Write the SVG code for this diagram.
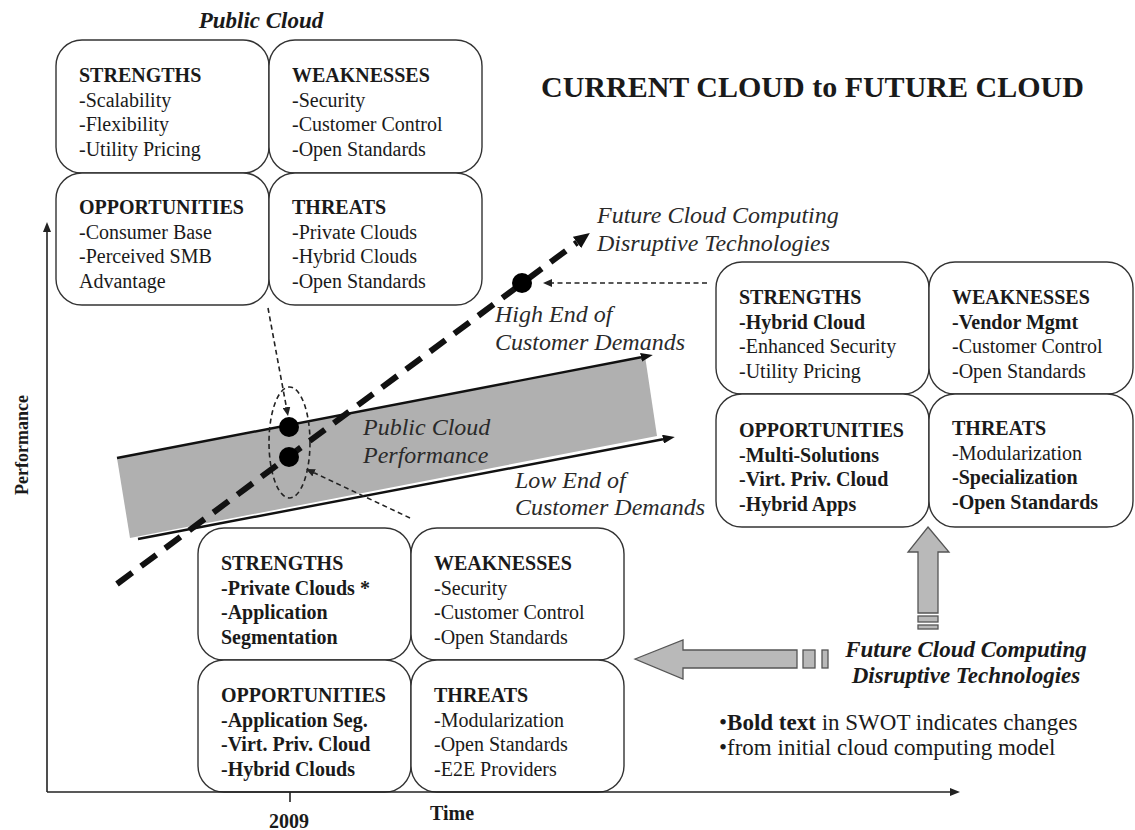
<svg xmlns="http://www.w3.org/2000/svg" width="1135" height="830" viewBox="0 0 1135 830">
<style>
text{font-family:"Liberation Serif","Times New Roman",serif;fill:#1a1a1a}
.sw{font-size:20px}
.h{font-weight:bold}
.b{font-weight:bold}
.it{font-style:italic;font-size:24px;fill:#2a2a2a}
.box{fill:#fff;stroke:#333;stroke-width:1.4}
.thin{fill:none;stroke:#222;stroke-width:1.6;stroke-dasharray:5 3.5}
.ax{fill:none;stroke:#222;stroke-width:1.6}
.blk{fill:#b9b9b9;stroke:#555;stroke-width:1.3}
</style>
<defs>
<marker id="ah" markerUnits="userSpaceOnUse" markerWidth="10" markerHeight="8" refX="0" refY="4" orient="auto"><path d="M0,0 L10,4 L0,8 z" fill="#222"/></marker>
<marker id="ahs" markerUnits="userSpaceOnUse" markerWidth="9" markerHeight="8" refX="0" refY="4" orient="auto"><path d="M0,0 L9,4 L0,8 z" fill="#222"/></marker>
<marker id="ahb" markerUnits="userSpaceOnUse" markerWidth="12" markerHeight="9" refX="0" refY="4.5" orient="auto"><path d="M0,0 L12,4.5 L0,9 z" fill="#111"/></marker>
<marker id="aht" markerUnits="userSpaceOnUse" markerWidth="16" markerHeight="14" refX="0" refY="7" orient="auto"><path d="M0,0 L16,7 L0,14 z" fill="#111"/></marker>
</defs>
<rect width="1135" height="830" fill="#fff"/>

<g id="band">
<polygon points="117,458 645,356 657,436 130,538" fill="#b0b0b0"/>
</g>

<text x="541" y="97" style="font-size:30px;font-weight:bold">CURRENT CLOUD to FUTURE CLOUD</text>
<text x="261" y="28" text-anchor="middle" style="font-size:23px;font-weight:bold;font-style:italic">Public Cloud</text>

<g id="pub-s"><rect class="box" x="56" y="40" width="213" height="133" rx="26"/>
<text class="sw" x="79" y="82"><tspan class="h">STRENGTHS</tspan><tspan x="79" dy="24.5">-Scalability</tspan><tspan x="79" dy="24.5">-Flexibility</tspan><tspan x="79" dy="24.5">-Utility Pricing</tspan></text></g>
<g id="pub-w"><rect class="box" x="269" y="40" width="213" height="133" rx="26"/>
<text class="sw" x="292" y="82"><tspan class="h">WEAKNESSES</tspan><tspan x="292" dy="24.5">-Security</tspan><tspan x="292" dy="24.5">-Customer Control</tspan><tspan x="292" dy="24.5">-Open Standards</tspan></text></g>
<g id="pub-o"><rect class="box" x="56" y="173" width="213" height="132" rx="26"/>
<text class="sw" x="79" y="214"><tspan class="h">OPPORTUNITIES</tspan><tspan x="79" dy="24.5">-Consumer Base</tspan><tspan x="79" dy="24.5">-Perceived SMB</tspan><tspan x="79" dy="24.5">Advantage</tspan></text></g>
<g id="pub-t"><rect class="box" x="269" y="173" width="213" height="132" rx="26"/>
<text class="sw" x="292" y="214"><tspan class="h">THREATS</tspan><tspan x="292" dy="24.5">-Private Clouds</tspan><tspan x="292" dy="24.5">-Hybrid Clouds</tspan><tspan x="292" dy="24.5">-Open Standards</tspan></text></g>

<g id="fut-s"><rect class="box" x="716" y="262" width="213" height="132" rx="26"/>
<text class="sw" x="739" y="304"><tspan class="h">STRENGTHS</tspan><tspan class="b" x="739" dy="24.5">-Hybrid Cloud</tspan><tspan x="739" dy="24.5">-Enhanced Security</tspan><tspan x="739" dy="24.5">-Utility Pricing</tspan></text></g>
<g id="fut-w"><rect class="box" x="929" y="262" width="204" height="132" rx="26"/>
<text class="sw" x="952" y="304"><tspan class="h">WEAKNESSES</tspan><tspan class="b" x="952" dy="24.5">-Vendor Mgmt</tspan><tspan x="952" dy="24.5">-Customer Control</tspan><tspan x="952" dy="24.5">-Open Standards</tspan></text></g>
<g id="fut-o"><rect class="box" x="716" y="394" width="213" height="133" rx="26"/>
<text class="sw" x="739" y="437"><tspan class="h">OPPORTUNITIES</tspan><tspan class="b" x="739" dy="24.5">-Multi-Solutions</tspan><tspan class="b" x="739" dy="24.5">-Virt. Priv. Cloud</tspan><tspan class="b" x="739" dy="24.5">-Hybrid Apps</tspan></text></g>
<g id="fut-t"><rect class="box" x="929" y="394" width="204" height="133" rx="26"/>
<text class="sw" x="952" y="435"><tspan class="h">THREATS</tspan><tspan x="952" dy="24.5">-Modularization</tspan><tspan class="b" x="952" dy="24.5">-Specialization</tspan><tspan class="b" x="952" dy="24.5">-Open Standards</tspan></text></g>

<g id="cur-s"><rect class="box" x="198" y="528" width="213" height="132" rx="26"/>
<text class="sw" x="221" y="570"><tspan class="h">STRENGTHS</tspan><tspan class="b" x="221" dy="24.5">-Private Clouds *</tspan><tspan class="b" x="221" dy="24.5">-Application</tspan><tspan class="b" x="221" dy="24.5">Segmentation</tspan></text></g>
<g id="cur-w"><rect class="box" x="411" y="528" width="213" height="132" rx="26"/>
<text class="sw" x="434" y="570"><tspan class="h">WEAKNESSES</tspan><tspan x="434" dy="24.5">-Security</tspan><tspan x="434" dy="24.5">-Customer Control</tspan><tspan x="434" dy="24.5">-Open Standards</tspan></text></g>
<g id="cur-o"><rect class="box" x="198" y="660" width="213" height="132" rx="26"/>
<text class="sw" x="221" y="702"><tspan class="h">OPPORTUNITIES</tspan><tspan class="b" x="221" dy="24.5">-Application Seg.</tspan><tspan class="b" x="221" dy="24.5">-Virt. Priv. Cloud</tspan><tspan class="b" x="221" dy="24.5">-Hybrid Clouds</tspan></text></g>
<g id="cur-t"><rect class="box" x="411" y="660" width="213" height="132" rx="26"/>
<text class="sw" x="434" y="702"><tspan class="h">THREATS</tspan><tspan x="434" dy="24.5">-Modularization</tspan><tspan x="434" dy="24.5">-Open Standards</tspan><tspan x="434" dy="24.5">-E2E Providers</tspan></text></g>

<g id="connectors">
<line class="ax" x1="47" y1="792" x2="47" y2="232" marker-end="url(#ah)"/>
<line class="ax" x1="47" y1="792" x2="950" y2="792" marker-end="url(#ah)"/>
<line class="ax" x1="290" y1="792" x2="290" y2="802"/>
<line x1="117" y1="458" x2="641" y2="357.3" stroke="#111" stroke-width="2.4" marker-end="url(#ahb)"/>
<line x1="138" y1="539" x2="663" y2="439.2" stroke="#111" stroke-width="2.4" marker-end="url(#ahb)"/>
<ellipse cx="289.5" cy="442.5" rx="20.5" ry="55.5" class="thin" stroke-width="1.3"/>
<line x1="117" y1="584" x2="577" y2="242.5" stroke="#111" stroke-width="6" stroke-dasharray="19 11" marker-end="url(#aht)"/>
<line class="thin" x1="268" y1="308" x2="286.4" y2="407.2" marker-end="url(#ahs)"/>
<line class="thin" x1="410" y1="518" x2="314.1" y2="472.8" marker-end="url(#ahs)"/>
<line class="thin" x1="707" y1="283" x2="552" y2="283" marker-end="url(#ahs)"/>
<polygon class="blk" points="635,659 683,640 683,650 797,650 797,668 683,668 683,679"/>
<rect class="blk" x="803" y="650" width="12" height="18"/>
<rect class="blk" x="822" y="650" width="6" height="18"/>
<polygon class="blk" points="928,527 949,552 938,552 938,613 918,613 918,552 908,552"/>
<rect class="blk" x="918" y="616" width="20" height="6"/>
<rect class="blk" x="918" y="625" width="20" height="4"/>
</g>

<g id="dots" fill="#000">
<circle cx="289" cy="427" r="10"/>
<circle cx="289" cy="457" r="10"/>
<circle cx="522" cy="283" r="10"/>
</g>

<g id="labels">
<text class="it" x="597" y="223">Future Cloud Computing</text>
<text class="it" x="597" y="251">Disruptive Technologies</text>
<text class="it" x="495" y="322">High End of</text>
<text class="it" x="495" y="350">Customer Demands</text>
<text class="it" x="363" y="435">Public Cloud</text>
<text class="it" x="363" y="463">Performance</text>
<text class="it" x="515" y="488">Low End of</text>
<text class="it" x="515" y="515">Customer Demands</text>
<text x="966" y="657" text-anchor="middle" style="font-size:23px;font-weight:bold;font-style:italic">Future Cloud Computing</text>
<text x="966" y="683" text-anchor="middle" style="font-size:23px;font-weight:bold;font-style:italic">Disruptive Technologies</text>
<text x="719" y="730" style="font-size:23px">•<tspan font-weight="bold">Bold text</tspan> in SWOT indicates changes</text>
<text x="719" y="755" style="font-size:23px">•from initial cloud computing model</text>
<text x="0" y="0" transform="translate(28,445) rotate(-90)" text-anchor="middle" style="font-size:18px;font-weight:bold">Performance</text>
<text x="452" y="820" text-anchor="middle" style="font-size:20px;font-weight:bold">Time</text>
<text x="289" y="828" text-anchor="middle" style="font-size:20px;font-weight:bold">2009</text>
</g>
</svg>
